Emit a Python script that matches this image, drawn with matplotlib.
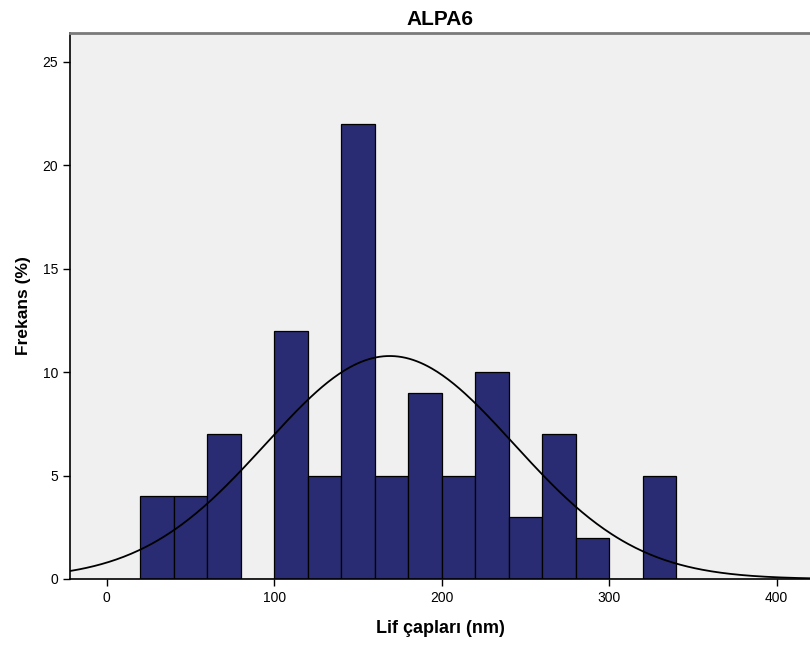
import matplotlib
matplotlib.use('Agg')
import matplotlib.pyplot as plt
import numpy as np

# histogram bins (nm) and percentages
bin_edges = [20, 40, 60, 80, 100, 120, 140, 160, 180, 200, 220, 240, 260, 280, 300, 320, 340]
percents = [4, 4, 7, 0, 12, 5, 22, 5, 9, 5, 10, 3, 7, 2, 0, 5]

# fitted normal curve parameters
curve_mean = 169.0
curve_sd = 74.0
bin_width = 20.0
total_pct = 100.0

x_ticks = [0, 100, 200, 300, 400]
y_ticks = [0, 5, 10, 15, 20, 25]

plt.rcParams['font.family'] = ['Liberation Sans', 'DejaVu Sans']

fig = plt.figure(figsize=(8.1, 6.48), dpi=100)
ax = fig.add_axes([0.0864, 0.1065, 0.9136, 0.8425])
ax.set_facecolor('#f0f0f0')

lefts = np.array(bin_edges[:-1])
widths = np.diff(bin_edges)
ax.bar(lefts, percents, width=widths, align='edge', color='#292c72',
       edgecolor='black', linewidth=0.9, zorder=2)

xs = np.linspace(-22, 420, 400)
ys = total_pct * bin_width / (curve_sd * np.sqrt(2 * np.pi)) * np.exp(-0.5 * ((xs - curve_mean) / curve_sd) ** 2)
ax.plot(xs, ys, color='black', linewidth=1.3, zorder=3)

ax.set_xlim(-22, 420)
ax.set_ylim(0, 26.4)
ax.set_xticks(x_ticks)
ax.set_yticks(y_ticks)
ax.tick_params(axis='both', direction='out', length=5, width=1, labelsize=10, colors='black')

for side in ['left', 'bottom']:
    ax.spines[side].set_color('black')
    ax.spines[side].set_linewidth(1.2)
ax.spines['top'].set_color('#7a7a7a')
ax.spines['top'].set_linewidth(2)
ax.spines['right'].set_visible(False)

ax.set_title('ALPA6', fontsize=15, fontweight='bold', pad=6)
ax.set_xlabel('Lif çapları (nm)', fontsize=13, fontweight='bold', labelpad=11)
ax.set_ylabel('Frekans (%)', fontsize=12.5, fontweight='bold', labelpad=8)

fig.savefig('out.png', dpi=100)
